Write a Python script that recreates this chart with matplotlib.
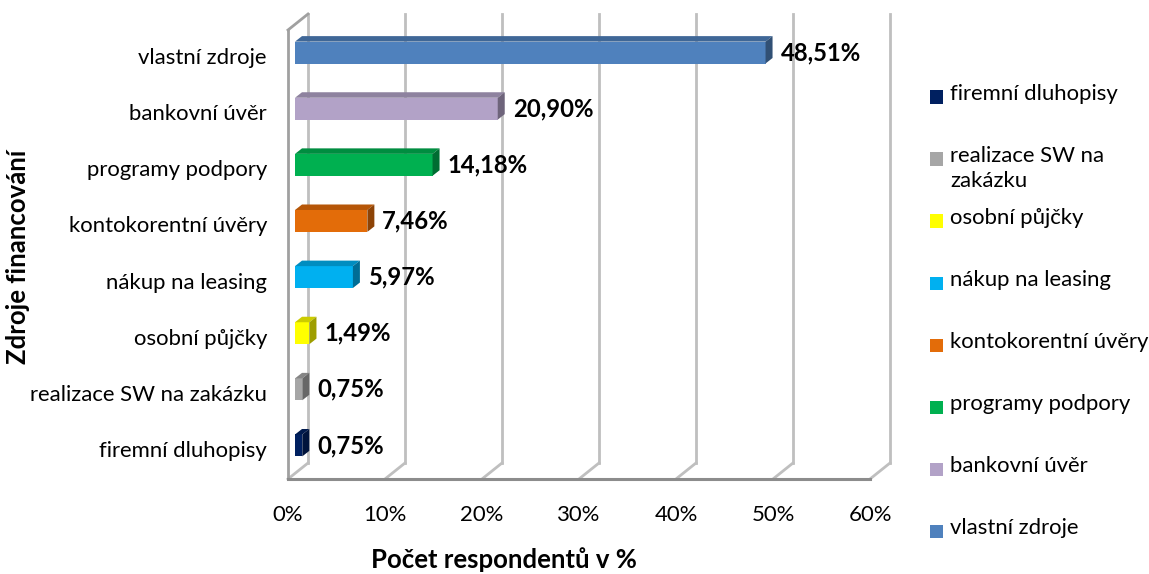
import matplotlib
matplotlib.use("Agg")
import matplotlib.pyplot as plt
import matplotlib.colors as mcolors
from matplotlib.patches import Polygon

# data (bottom -> top as drawn)
categories = ["firemní dluhopisy", "realizace SW na zakázku", "osobní půjčky",
              "nákup na leasing", "kontokorentní úvěry", "programy podpory",
              "bankovní úvěr", "vlastní zdroje"]
values = [0.75, 0.75, 1.49, 5.97, 7.46, 14.18, 20.90, 48.51]
bar_colors = ["#002060", "#A6A6A6", "#FFFF00", "#00B0F0",
              "#E36C09", "#00B050", "#B2A2C7", "#4F81BD"]
legend_labels = ["firemní dluhopisy", "realizace SW na\nzakázku", "osobní půjčky",
                 "nákup na leasing", "kontokorentní úvěry", "programy podpory",
                 "bankovní úvěr", "vlastní zdroje"]
x_ticks = [0, 10, 20, 30, 40, 50, 60]
x_ticklabels = ["0%", "10%", "20%", "30%", "40%", "50%", "60%"]

plt.rcParams['font.family'] = ['Lato', 'DejaVu Sans']

W, H = 1149, 574
fig = plt.figure(figsize=(W / 100, H / 100), dpi=100)
# front plane of the 3d box in pixels
px_l, px_r, px_t, px_b = 288, 870, 30, 479
ax = fig.add_axes([px_l / W, (H - px_b) / H, (px_r - px_l) / W, (px_b - px_t) / H])
ax.set_xlim(0, 60)
ax.set_ylim(-0.5, 7.5)
ax.axis("off")

sx = (px_r - px_l) / 60.0     # px per %
sy = (px_b - px_t) / 8.0      # px per category

def depth(dxp, dyp):
    return dxp / sx, dyp / sy

DX, DY = depth(20, 16)        # full depth of box
b0x, b0y = depth(7, 5.5)      # bar front
b1x, b1y = depth(14, 11)      # bar back

grid_c = "#BFBFBF"
edge_c = "#A0A0A0"
y0, y1 = -0.5, 7.5

# back wall gridlines + floor diagonals
for k in x_ticks:
    ax.plot([k + DX, k + DX], [y0 + DY, y1 + DY], color=grid_c, lw=2, clip_on=False, zorder=1)
    ax.plot([k, k + DX], [y0, y0 + DY], color=grid_c, lw=2, clip_on=False, zorder=1)
# left wall
ax.plot([0, 0], [y0, y1], color=edge_c, lw=2, clip_on=False, zorder=2)
ax.plot([0, DX], [y1, y1 + DY], color=edge_c, lw=2, clip_on=False, zorder=2)
# floor front edge
ax.plot([0, 60], [y0, y0], color="#8C8C8C", lw=2.2, clip_on=False, zorder=2)

bh = 0.39
for i, (v, c) in enumerate(zip(values, bar_colors)):
    yb = i - bh / 2 + b0y
    yt = i + bh / 2 + b0y
    xl = b0x
    xr = v + b0x
    ex, ey = b1x - b0x, b1y - b0y
    rgb = mcolors.to_rgb(c)
    top_c = tuple(ch * 0.8 for ch in rgb)
    side_c = tuple(ch * 0.62 for ch in rgb)
    ax.add_patch(Polygon([(xl, yb), (xr, yb), (xr, yt), (xl, yt)],
                         facecolor=c, edgecolor="none", zorder=3, clip_on=False))
    ax.add_patch(Polygon([(xl, yt), (xr, yt), (xr + ex, yt + ey), (xl + ex, yt + ey)],
                         facecolor=top_c, edgecolor="none", zorder=3, clip_on=False))
    ax.add_patch(Polygon([(xr, yb), (xr + ex, yb + ey), (xr + ex, yt + ey), (xr, yt)],
                         facecolor=side_c, edgecolor="none", zorder=3, clip_on=False))
    lbl = f"{v:.2f}".replace(".", ",") + "%"
    ax.text(xr + ex + 8 / sx, i + b0y, lbl, fontsize=17.2, fontweight="bold",
            ha="left", va="center", zorder=4)

# category labels
for i, name in enumerate(categories):
    ax.text(-21 / sx, i, name, fontsize=15.9, ha="right", va="center")

# x tick labels
for k, t in zip(x_ticks, x_ticklabels):
    ax.text(k, y0 - 36 / sy, t, fontsize=15.9, ha="center", va="center")

fig.text(18 / W, 1 - 257 / H, "Zdroje financování", rotation=90, fontsize=18.5,
         fontweight="bold", ha="center", va="center")
fig.text(504 / W, 1 - 560 / H, "Počet respondentů v %", fontsize=18.5,
         fontweight="bold", ha="center", va="center")

# legend (reverse order, top = firemní dluhopisy)
for k, (lab, c) in enumerate(zip(legend_labels, bar_colors)):
    yc = 97 + 62 * k
    fig.patches.append(plt.Rectangle((930 / W, 1 - (yc + 6.5) / H), 13 / W, 13 / H,
                                     transform=fig.transFigure, facecolor=c,
                                     edgecolor="none"))
    fig.text(950 / W, 1 - (yc - 13) / H, lab, fontsize=15.9, ha="left", va="top",
             linespacing=1.3)

fig.savefig("out.png", dpi=100)
